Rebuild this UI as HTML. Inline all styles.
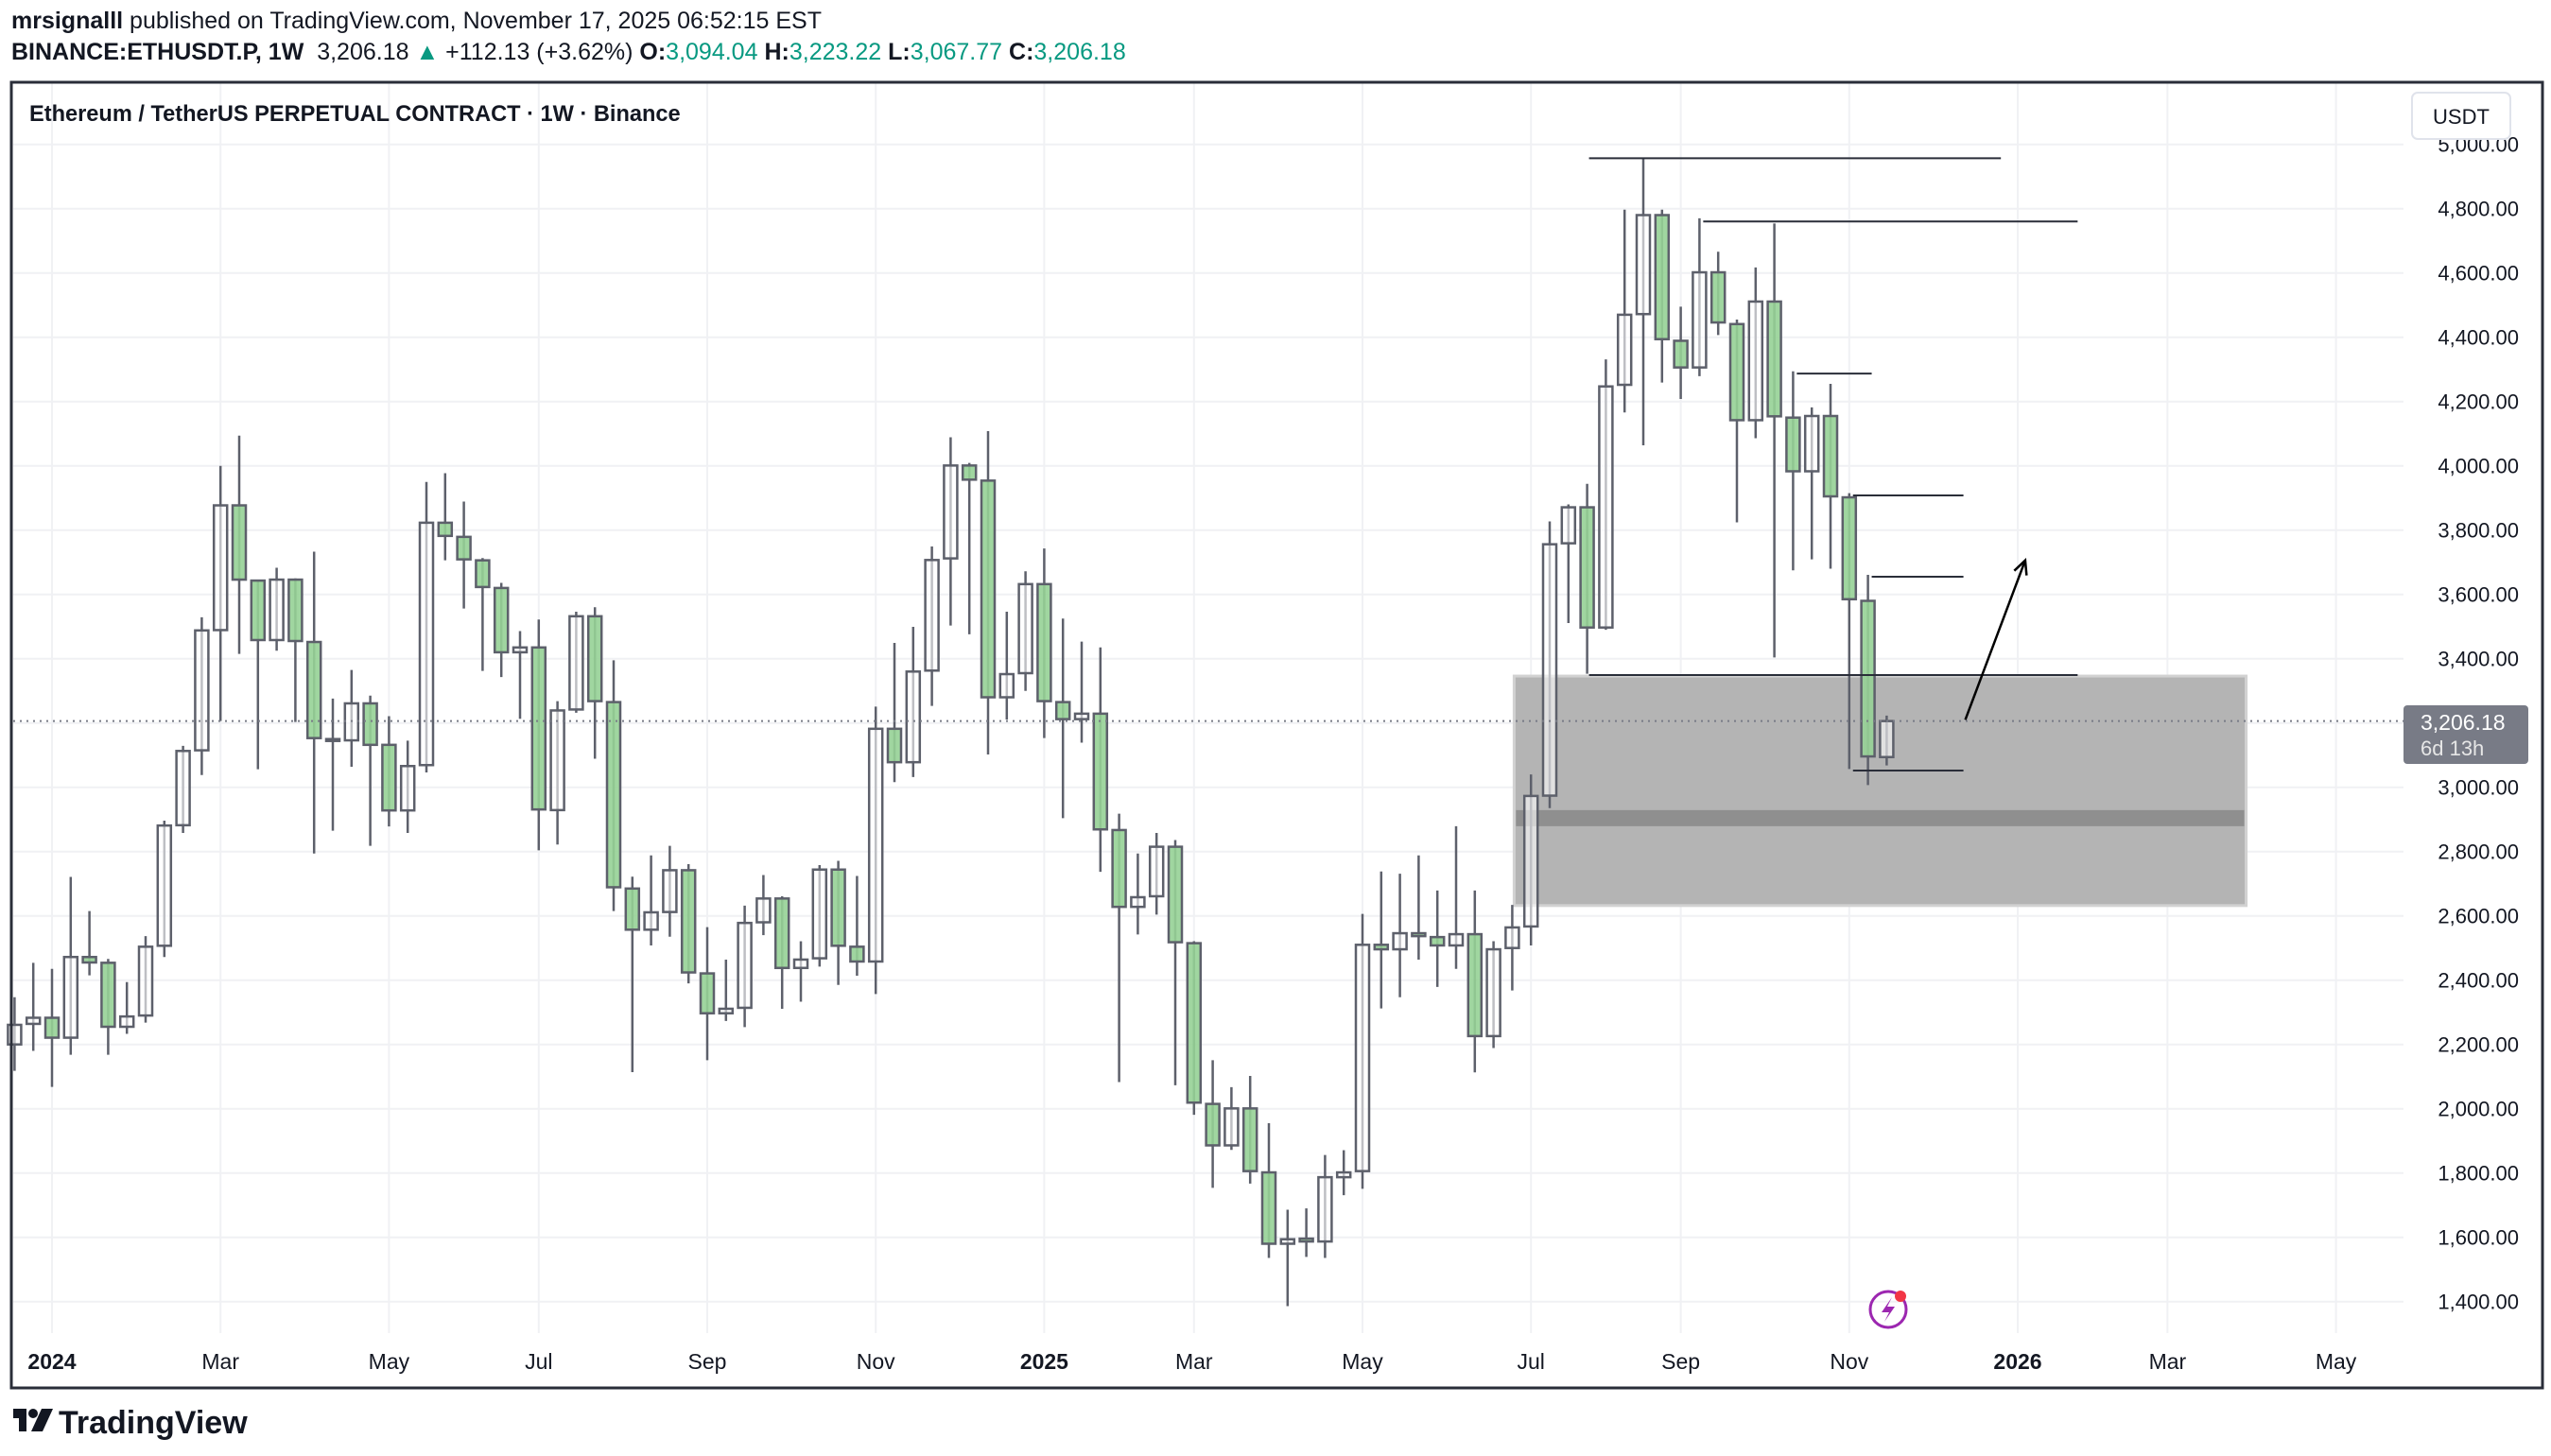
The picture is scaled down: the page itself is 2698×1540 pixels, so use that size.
<!DOCTYPE html>
<html><head><meta charset="utf-8">
<style>
html,body{margin:0;padding:0;background:#fff;}
body{width:2698px;height:1540px;overflow:hidden;position:relative;font-family:"Liberation Sans",sans-serif;color:#131722;}
.hdr{position:absolute;left:12px;font-size:25px;white-space:nowrap;}
.g{color:#089981;}
</style></head>
<body>
<div class="hdr" style="top:8px;"><b>mrsignalll</b> published on TradingView.com, November 17, 2025 06:52:15 EST</div>
<div class="hdr" style="top:41px;"><b>BINANCE:ETHUSDT.P, 1W</b>&nbsp; 3,206.18 <span class="g">▲</span> +112.13 (+3.62%) <b>O:</b><span class="g">3,094.04</span> <b>H:</b><span class="g">3,223.22</span> <b>L:</b><span class="g">3,067.77</span> <b>C:</b><span class="g">3,206.18</span></div>
<svg id="chart" width="2698" height="1540" style="position:absolute;left:0;top:0;" xmlns="http://www.w3.org/2000/svg">
<g id="grid"></g><g id="zone"></g><g id="candles"></g><g id="draw"></g><g id="axes"></g>
<rect x="12" y="87" width="2677" height="1381" fill="none" stroke="#2a2e39" stroke-width="3"/>
<text x="31" y="128" font-size="23.6" font-weight="bold" fill="#131722" font-family="Liberation Sans, sans-serif">Ethereum / TetherUS PERPETUAL CONTRACT · 1W · Binance</text>
<rect x="2551" y="98" width="104" height="49" rx="6" fill="#fff" stroke="#e0e3eb" stroke-width="2"/>
<text x="2603" y="131" font-size="22" text-anchor="middle" fill="#131722" font-family="Liberation Sans, sans-serif">USDT</text>
<rect x="2542" y="746" width="132" height="62" rx="4" fill="#787b86"/>
<text x="2560" y="772" font-size="23" fill="#fff" font-family="Liberation Sans, sans-serif">3,206.18</text>
<text x="2560" y="799" font-size="22" fill="#e6e6e6" font-family="Liberation Sans, sans-serif">6d 13h</text>
<g><circle cx="1997" cy="1385" r="19" fill="none" stroke="#9c27b0" stroke-width="3"/><path d="M2001 1372 L1990 1388 L1998 1388 L1993 1398 L2004 1382 L1996 1382 Z" fill="#9c27b0"/><circle cx="2010" cy="1371" r="6" fill="#f23645"/></g>
<g>
<rect x="14" y="1490" width="14" height="10" fill="#131722"/><rect x="20" y="1490" width="8" height="24" fill="#131722"/><circle cx="35" cy="1495" r="5" fill="#131722"/><path d="M44 1490 L56 1490 L45 1514 L33 1514 Z" fill="#131722"/>
<text x="62" y="1516" font-size="34" font-weight="bold" fill="#131722" font-family="Liberation Sans, sans-serif">TradingView</text></g>
</svg>
<script>
const startWeek = -2;
const opens  = [2200,2264,2283,2221,2472,2454,2255,2290,2507,2882,3115,3489,3877,3643,3458,3646,3452,3150,3146,3261,3132,2928,3069,3823,3779,3706,3620,3420,3435,2929,3242,3532,3265,2685,2557,2612,2742,2421,2297,2314,2580,2654,2438,2468,2744,2504,2458,3182,3078,3363,3712,4001,3954,3280,3355,3632,3265,3212,3229,2867,2628,2661,2815,2515,2015,1886,2001,1802,1580,1596,1587,1787,1806,2510,2496,2546,2534,2508,2543,2226,2500,2567,2974,3759,3871,3497,4252,4472,4780,4389,4306,4602,4441,4142,4511,4150,3983,4155,3902,3580,3094];
const highs  = [2347,2454,2435,2721,2615,2466,2394,2537,2896,3129,3529,4000,4094,3646,3683,3650,3733,3276,3365,3285,3221,3145,3950,3977,3889,3713,3636,3486,3522,3268,3546,3560,3395,2722,2788,2818,2761,2565,2464,2632,2727,2661,2521,2758,2771,2724,3251,3449,3499,3749,4089,4009,4108,3546,3672,3743,3525,3453,3435,2918,2794,2858,2836,2521,2151,2067,2102,1955,1686,1690,1856,1871,2606,2738,2731,2788,2679,2879,2679,2521,2634,3040,3827,3880,3944,4331,4797,4957,4797,4495,4770,4666,4455,4617,4754,4294,4182,4255,3915,3661,3223];
const lows   = [2118,2180,2068,2168,2415,2168,2233,2268,2472,2858,3038,3206,3415,3056,3425,3203,2794,2865,3064,2818,2878,2858,3046,3706,3556,3362,3343,3213,2804,2822,3232,3089,2615,2114,2508,2535,2390,2151,2273,2254,2540,2311,2333,2442,2385,2414,2357,3016,3032,3253,3503,3476,3102,3211,3300,3153,2904,3139,2737,2083,2542,2604,2073,1981,1754,1872,1767,1536,1386,1539,1536,1731,1751,2312,2347,2464,2379,2435,2113,2189,2368,2508,2935,3511,3353,3490,4166,4064,4259,4208,4279,4407,3824,4086,3404,3675,3709,3680,3057,3007,3068];
const closes = [2261,2283,2221,2472,2455,2255,2287,2504,2881,3113,3488,3877,3646,3458,3646,3455,3153,3146,3261,3132,2928,3066,3823,3782,3709,3623,3420,3435,2931,3239,3532,3268,2689,2557,2611,2742,2424,2297,2311,2578,2654,2438,2464,2744,2507,2458,3182,3078,3360,3707,4001,3957,3280,3352,3632,3268,3212,3229,2869,2628,2658,2815,2518,2019,1886,2001,1806,1580,1594,1587,1787,1802,2510,2496,2546,2537,2508,2543,2226,2496,2564,2973,3756,3871,3497,4247,4470,4780,4394,4306,4602,4446,4142,4511,4154,3983,4155,3905,3585,3096,3206];
const priceTicks = [1400,1600,1800,2000,2200,2400,2600,2800,3000,3200,3400,3600,3800,4000,4200,4400,4600,4800,5000];
const timeLabels = ["2024","Mar","May","Jul","Sep","Nov","2025","Mar","May","Jul","Sep","Nov","2026","Mar","May"];
const timeWeeks  = [0,9,18,26,35,44,53,61,70,79,87,96,105,113,122];
const levelPrices = [4957,4760,4287,3908,3655,3349,3052];
const levelStartWeeks = [82.1,88.2,93.2,96.2,97.2,82.1,96.2];
const levelEndWeeks = [104.1,108.2,97.2,102.1,102.1,108.2,102.1];
const zoneTop = 3346, zoneBottom = 2632, bandTop = 2929, bandBottom = 2879;
const zoneStartWeek = 78.1, zoneEndWeek = 117.2;
const lastPrice = 3206.18;
const arrowFrom = [102.2, 3210], arrowTo = [105.4, 3706];

const NS = "http://www.w3.org/2000/svg";
const yOf = p => 220.7 + (4800 - p) * 0.34;
const xOf = w => 55 + 19.8 * w;
const L = 14, R = 2542, T = 88, B = 1410;
function mk(tag, attrs, parent){const e=document.createElementNS(NS,tag);for(const k in attrs)e.setAttribute(k,attrs[k]);document.getElementById(parent).appendChild(e);return e;}

priceTicks.forEach(p=>{
  const gl = mk("line",{x1:L,x2:R,y1:yOf(p),y2:yOf(p),stroke:"#f0f1f4","stroke-width":2},"grid");
  
  
  const t = mk("text",{x:2664,y:yOf(p)+8,"font-size":22,"text-anchor":"end",fill:"#131722","font-family":"Liberation Sans, sans-serif"},"axes");
  t.textContent = p.toLocaleString("en-US",{minimumFractionDigits:2,maximumFractionDigits:2});
  
  
});
timeLabels.forEach((lab,k)=>{
  const x = xOf(timeWeeks[k]);
  const gl = mk("line",{x1:x,x2:x,y1:T,y2:B,stroke:"#f0f1f4","stroke-width":2},"grid");
  
  
  const bold = /^\d{4}$/.test(lab);
  const t = mk("text",{x:x,y:1448,"font-size":23,"text-anchor":"middle",fill:"#131722","font-weight":bold?"bold":"normal","font-family":"Liberation Sans, sans-serif"},"axes");
  t.textContent = lab;
  
  
});

const z = mk("rect",{x:xOf(zoneStartWeek),y:yOf(zoneTop),width:xOf(zoneEndWeek)-xOf(zoneStartWeek),height:yOf(zoneBottom)-yOf(zoneTop),fill:"#b4b4b4",stroke:"#d2d2d2","stroke-width":3},"zone");


const zb = mk("rect",{x:xOf(zoneStartWeek)+2,y:yOf(bandTop),width:xOf(zoneEndWeek)-xOf(zoneStartWeek)-4,height:yOf(bandBottom)-yOf(bandTop),fill:"#8f8f8f"},"zone");



const dl = mk("line",{x1:L,x2:R,y1:yOf(lastPrice),y2:yOf(lastPrice),stroke:"#787b86","stroke-width":2,"stroke-dasharray":"2 5"},"draw");



opens.forEach((o,k)=>{
  const c = closes[k], h = highs[k], l = lows[k];
  const x = xOf(startWeek + k);
  const up = c >= o;
  const g = mk("g",{},"candles");
  
  
  const w = document.createElementNS(NS,"line");
  w.setAttribute("x1",x);w.setAttribute("x2",x);w.setAttribute("y1",yOf(h));w.setAttribute("y2",yOf(l));
  w.setAttribute("stroke","#5d606b");w.setAttribute("stroke-width","2.5");
  
  
  g.appendChild(w);
  const top = yOf(Math.max(o,c)), bot = yOf(Math.min(o,c));
  const b = document.createElementNS(NS,"rect");
  b.setAttribute("x",x-7);b.setAttribute("y",top);b.setAttribute("width",14);b.setAttribute("height",Math.max(bot-top,2));
  b.setAttribute("fill",up?"rgba(255,255,255,0.6)":"rgba(150,210,150,0.9)");
  b.setAttribute("stroke","#5d606b");b.setAttribute("stroke-width","2.5");
  
  
  g.appendChild(b);
});

levelPrices.forEach((p,k)=>{
  const ln = mk("line",{x1:xOf(levelStartWeeks[k]),x2:xOf(levelEndWeeks[k]),y1:yOf(p),y2:yOf(p),stroke:"#2a2e39","stroke-width":2},"draw");
  
  
});
const ax1 = xOf(arrowFrom[0]), ay1 = yOf(arrowFrom[1]), ax2 = xOf(arrowTo[0]), ay2 = yOf(arrowTo[1]);
const ar = mk("line",{x1:ax1,y1:ay1,x2:ax2,y2:ay2,stroke:"#000","stroke-width":2.5},"draw");


const ang = Math.atan2(ay2-ay1, ax2-ax1);
const hd = mk("polyline",{points:[[ax2-16*Math.cos(ang-0.45),ay2-16*Math.sin(ang-0.45)],[ax2,ay2],[ax2-16*Math.cos(ang+0.45),ay2-16*Math.sin(ang+0.45)]].map(p=>p.join(",")).join(" "),fill:"none",stroke:"#000","stroke-width":2.5},"draw");


</script>
</body></html>
